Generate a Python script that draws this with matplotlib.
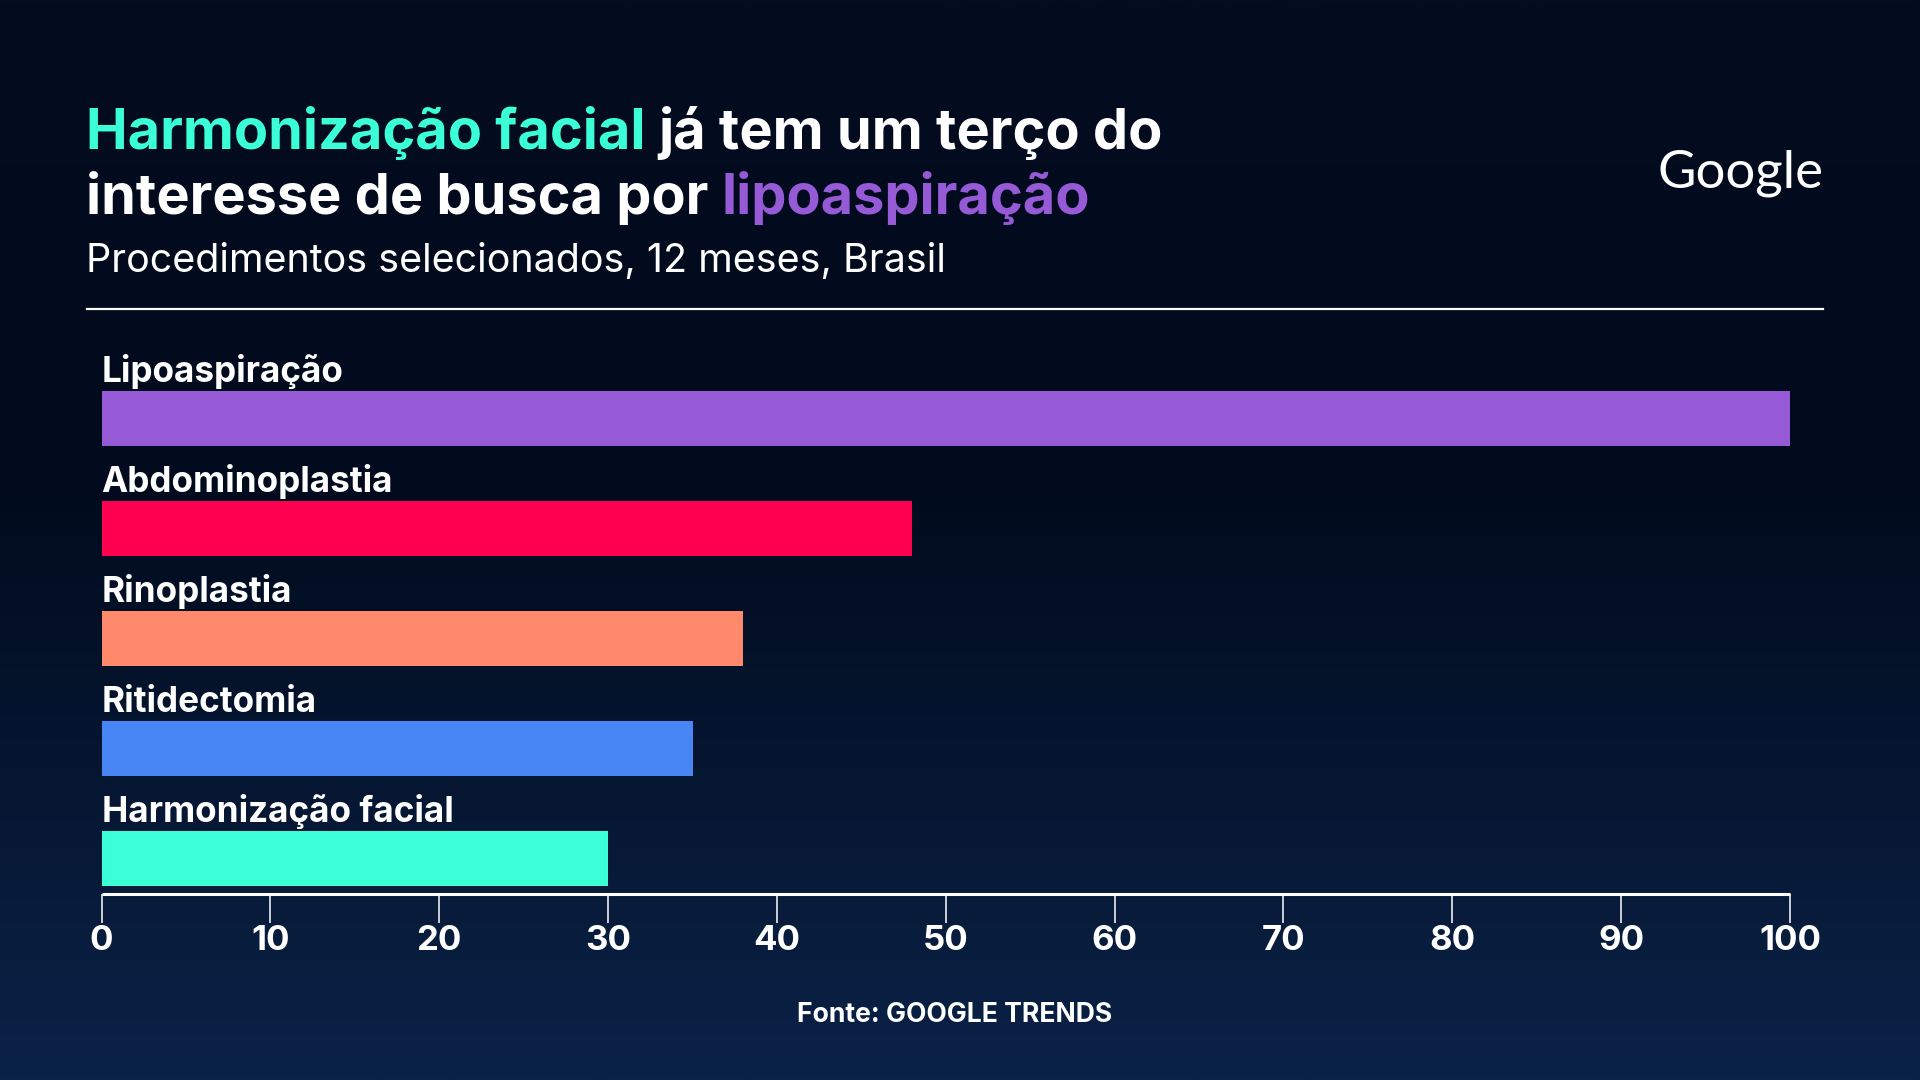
import matplotlib
matplotlib.use('Agg')
import matplotlib.pyplot as plt
import numpy as np
from matplotlib.colors import LinearSegmentedColormap

# ---- data ----
categories = ['Lipoaspiração', 'Abdominoplastia', 'Rinoplastia', 'Ritidectomia', 'Harmonização facial']
values = [100, 48, 38, 35, 30]
bar_colors = ['#975AD7', '#FF0051', '#FF8A6B', '#4886F5', '#3AFFD7']
xticks = [0, 10, 20, 30, 40, 50, 60, 70, 80, 90, 100]
xtick_labels = [str(v) for v in xticks]

CYAN = '#3AFFD7'
PURPLE = '#975AD7'
title_line1 = [('Harmonização facial', CYAN), ('já tem um terço do', 'white')]
title_line2 = [('interesse de busca por', 'white'), ('lipoaspiração', PURPLE)]
subtitle = 'Procedimentos selecionados, 12 meses, Brasil'
source = 'Fonte: GOOGLE TRENDS'
logo = 'Google'

FONT = ['Inter', 'DejaVu Sans']
plt.rcParams['font.family'] = FONT

W, H = 1920, 1080
fig = plt.figure(figsize=(19.2, 10.8), dpi=100)

# background gradient
bg = fig.add_axes([0, 0, 1, 1])
cmap = LinearSegmentedColormap.from_list('bg', [(0.0, '#040c1f'), (0.45, '#010b1d'), (1.0, '#0b2247')])
grad = np.linspace(0, 1, 512).reshape(-1, 1)
bg.imshow(grad, aspect='auto', cmap=cmap, extent=[0, 1, 0, 1], origin='upper')
bg.set_axis_off()

def fx(x):
    return x / W

def fy(y):
    return 1 - y / H

# main axes
ax_top, ax_bot = 340, 894
ax = fig.add_axes([fx(101.6), fy(ax_bot), 1688.4 / W, (ax_bot - ax_top) / H])
ax.patch.set_alpha(0)
ypos = np.arange(len(categories))
ax.barh(ypos, values, height=0.5, color=bar_colors)
ax.set_xlim(0, 100)
ax.set_ylim(4 + 35.5 / 110, -(418.5 - ax_top) / 110)
for s in ['top', 'left', 'right']:
    ax.spines[s].set_visible(False)
ax.spines['bottom'].set_color('white')
ax.spines['bottom'].set_linewidth(2.2)
ax.spines['bottom'].set_capstyle('butt')
ax.set_yticks([])
ax.set_xticks(xticks)
ax.set_xticklabels(xtick_labels)
ax.tick_params(axis='x', colors='white', length=21, width=1.1, pad=1.5,
               labelsize=25)
for lab in ax.get_xticklabels():
    lab.set_fontweight('bold')
    lab.set_color('white')

for yi, cat in zip(ypos, categories):
    ax.text(0, yi - 0.335, cat, ha='left', va='baseline', fontsize=25.3,
            fontweight='bold', color='white')

# title (multi-colour)
renderer = fig.canvas.get_renderer()

def space_width(size, weight):
    t1 = fig.text(0, 0, 'a a', fontsize=size, fontweight=weight)
    t2 = fig.text(0, 0, 'aa', fontsize=size, fontweight=weight)
    w = t1.get_window_extent(renderer).width - t2.get_window_extent(renderer).width
    t1.remove(); t2.remove()
    return w

def draw_line(pieces, x0, baseline, size, weight):
    sp = space_width(size, weight)
    x = x0
    for txt, col in pieces:
        t = fig.text(fx(x), fy(baseline), txt, fontsize=size, fontweight=weight,
                     color=col, ha='left', va='baseline')
        ext = t.get_window_extent(renderer)
        x = ext.x1 + sp

TSIZE = 40.2
draw_line(title_line1, 86, 149, TSIZE, 'bold')
draw_line(title_line2, 86, 214, TSIZE, 'bold')

fig.text(fx(86), fy(272), subtitle, fontsize=28.4, color='white', ha='left', va='baseline')

# rule
fig.add_artist(plt.Line2D([fx(87), fx(1823)], [fy(309), fy(309)], color='white', lw=1.6))

# logo
fig.text(fx(1823), fy(173), logo, fontsize=38, color='white', ha='right', va='center',
         family=['Lato', 'DejaVu Sans'])

# source
fig.text(fx(955), fy(1022), source, fontsize=19.1, fontweight='bold', color='white',
         ha='center', va='baseline')

fig.savefig('out.png', dpi=100)
